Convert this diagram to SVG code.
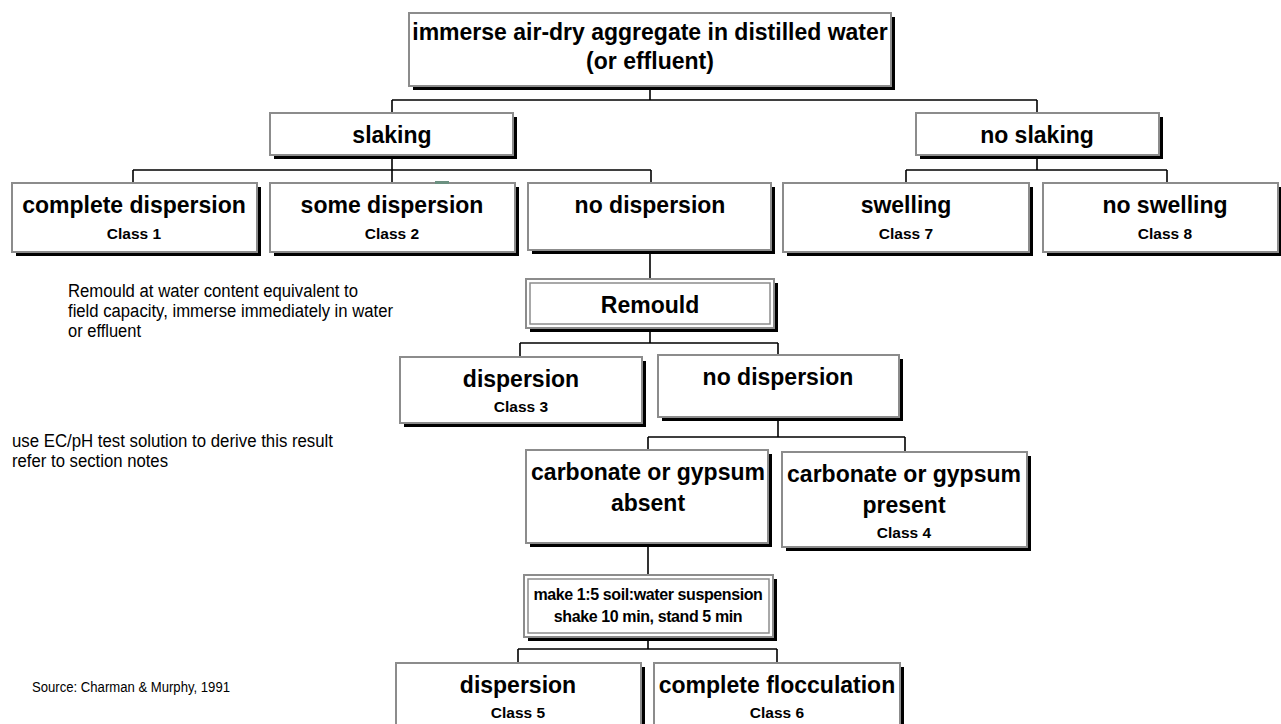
<svg xmlns="http://www.w3.org/2000/svg" width="1281" height="724" viewBox="0 0 1281 724">
<style>
.box{fill:#fff;stroke:#8c8c8c;stroke-width:2}
.in{fill:none;stroke:#8c8c8c;stroke-width:1.5}
.sh{fill:#000}
.ln{stroke:#000;stroke-width:1.6;fill:none}
.t{font-family:"Liberation Sans",Arial,sans-serif;font-weight:bold;font-size:23px;text-anchor:middle;fill:#000}
.c{font-family:"Liberation Sans",Arial,sans-serif;font-weight:bold;font-size:15.5px;text-anchor:middle;fill:#000}
.m{font-family:"Liberation Sans",Arial,sans-serif;font-weight:bold;font-size:16px;letter-spacing:-0.4px;text-anchor:middle;fill:#000}
.n{font-family:"Liberation Sans",Arial,sans-serif;font-size:18px;fill:#000}
.s{font-family:"Liberation Sans",Arial,sans-serif;font-size:14px;fill:#000}
</style>
<rect width="1281" height="724" fill="#fff"/>
<g id="connectors">
<path class="ln" d="M650 88V100M392 100H1037M392 100V113M1037 100V113M392 157V183M133 170H651M133 170V183M651 170V183M1037 157V170M906 170H1167M906 170V183M1167 170V183M650 254V279M650 331V343M520 343H778M520 343V357M778 343V355M778 420V437M648 437H905M648 437V450M905 437V452M648 547V575M648 640V649M518 649H777M518 649V663M777 649V663"/>
</g>
<g id="n-top"><rect class="sh" x="413" y="17" width="482" height="73"/><rect class="box" x="409" y="13" width="482" height="73"/><text class="t" x="650" y="40">immerse air-dry aggregate in distilled water</text><text class="t" x="650" y="69">(or effluent)</text></g>
<g id="n-slaking"><rect class="sh" x="274" y="117" width="243" height="42"/><rect class="box" x="270" y="113" width="243" height="42"/><text class="t" x="392" y="143">slaking</text></g>
<g id="n-noslaking"><rect class="sh" x="920" y="117" width="243" height="42"/><rect class="box" x="916" y="113" width="243" height="42"/><text class="t" x="1037" y="143">no slaking</text></g>
<g id="n-class1"><rect class="sh" x="16" y="187" width="245" height="69"/><rect class="box" x="12" y="183" width="245" height="69"/><text class="t" x="134" y="213">complete dispersion</text><text class="c" x="134" y="239">Class 1</text></g>
<g id="n-class2"><rect class="sh" x="274" y="187" width="245" height="69"/><rect class="box" x="270" y="183" width="245" height="69"/><text class="t" x="392" y="213">some dispersion</text><text class="c" x="392" y="239">Class 2</text></g>
<rect x="435" y="181" width="14" height="3" fill="#6b9080"/>
<g id="n-nodisp1"><rect class="sh" x="532" y="187" width="243" height="67"/><rect class="box" x="528" y="183" width="243" height="67"/><text class="t" x="650" y="213">no dispersion</text></g>
<g id="n-class7"><rect class="sh" x="787" y="187" width="246" height="69"/><rect class="box" x="783" y="183" width="246" height="69"/><text class="t" x="906" y="213">swelling</text><text class="c" x="906" y="239">Class 7</text></g>
<g id="n-class8"><rect class="sh" x="1047" y="187" width="235" height="69"/><rect class="box" x="1043" y="183" width="235" height="69"/><text class="t" x="1165" y="213">no swelling</text><text class="c" x="1165" y="239">Class 8</text></g>
<g id="n-remould"><rect class="sh" x="530" y="283" width="248" height="49"/><rect class="box" x="526" y="279" width="248" height="49"/><rect class="in" x="530" y="283" width="240" height="41"/><text class="t" x="650" y="313">Remould</text></g>
<g id="n-class3"><rect class="sh" x="404" y="361" width="242" height="66"/><rect class="box" x="400" y="357" width="242" height="66"/><text class="t" x="521" y="387">dispersion</text><text class="c" x="521" y="412">Class 3</text></g>
<g id="n-nodisp2"><rect class="sh" x="662" y="359" width="241" height="62"/><rect class="box" x="658" y="355" width="241" height="62"/><text class="t" x="778" y="385">no dispersion</text></g>
<g id="n-absent"><rect class="sh" x="530" y="454" width="242" height="93"/><rect class="box" x="526" y="450" width="242" height="93"/><text class="t" x="648" y="480">carbonate or gypsum</text><text class="t" x="648" y="511">absent</text></g>
<g id="n-class4"><rect class="sh" x="786" y="456" width="245" height="95"/><rect class="box" x="782" y="452" width="245" height="95"/><text class="t" x="904" y="482">carbonate or gypsum</text><text class="t" x="904" y="513">present</text><text class="c" x="904" y="538">Class 4</text></g>
<g id="n-make"><rect class="sh" x="528" y="579" width="249" height="62"/><rect class="box" x="524" y="575" width="249" height="62"/><rect class="in" x="528" y="579" width="241" height="54"/><text class="m" x="648" y="600">make 1:5 soil:water suspension</text><text class="m" x="648" y="622">shake 10 min, stand 5 min</text></g>
<g id="n-class5"><rect class="sh" x="400" y="667" width="245" height="80"/><rect class="box" x="396" y="663" width="245" height="80"/><text class="t" x="518" y="693">dispersion</text><text class="c" x="518" y="718">Class 5</text></g>
<g id="n-class6"><rect class="sh" x="658" y="667" width="246" height="80"/><rect class="box" x="654" y="663" width="246" height="80"/><text class="t" x="777" y="693">complete flocculation</text><text class="c" x="777" y="718">Class 6</text></g>
<g id="notes">
<text class="n" x="68" y="297" textLength="290" lengthAdjust="spacingAndGlyphs">Remould at water content equivalent to</text>
<text class="n" x="68" y="317" textLength="325" lengthAdjust="spacingAndGlyphs">field capacity, immerse immediately in water</text>
<text class="n" x="68" y="337" textLength="73" lengthAdjust="spacingAndGlyphs">or effluent</text>
<text class="n" x="12" y="447" textLength="321" lengthAdjust="spacingAndGlyphs">use EC/pH test solution to derive this result</text>
<text class="n" x="12" y="467" textLength="156" lengthAdjust="spacingAndGlyphs">refer to section notes</text>
<text class="s" x="32" y="692" textLength="198" lengthAdjust="spacingAndGlyphs">Source: Charman &amp; Murphy, 1991</text>
</g>
</svg>
